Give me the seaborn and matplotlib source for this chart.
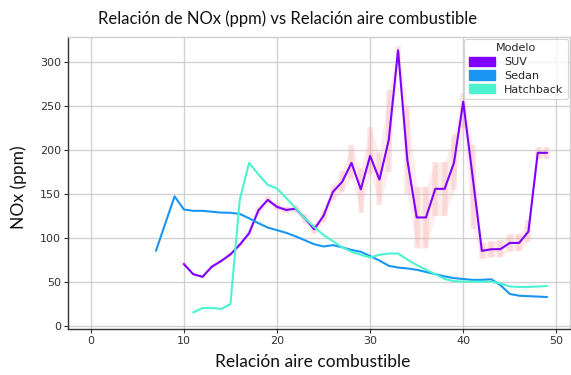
import numpy as np
import pandas as pd
import matplotlib
matplotlib.use("Agg")
import matplotlib.pyplot as plt
import seaborn as sns
from matplotlib.patches import Patch

# --- data -------------------------------------------------------------
modelos = ["SUV", "Sedan", "Hatchback"]

suv_x = list(range(10, 50))
suv_nox = [70, 58.5, 55.5, 67, 73.5, 81, 92, 105, 131, 143,
           135, 131.5, 133, 122, 109.5, 125, 152, 163.5, 185, 155,
           193, 166, 211, 313, 188, 123, 123, 155.5, 155.5, 185,
           254.5, 170, 85, 86.8, 87, 94, 94, 107, 196.5, 196.5]
suv_lo = [68, 57, 54, 65, 72, 79, 90, 102, 127, 139,
          131, 128, 129, 117, 104, 118, 143, 152, 168, 128,
          172, 137, 175, 300, 150, 88, 88, 125, 125, 154,
          225, 110, 76, 78, 78, 85, 85, 95, 190, 190]
suv_hi = [72, 60, 57, 69, 75, 83, 94, 108, 135, 147,
          139, 135, 137, 127, 115, 132, 160, 176, 205, 178,
          226, 196, 268, 318, 250, 158, 158, 186, 186, 218,
          265, 205, 94, 96, 97, 104, 104, 120, 203, 203]

sedan_x = list(range(7, 50))
sedan_nox = [85, 116, 147, 132, 130.5, 130.5, 129.5, 128.5, 128.3, 127,
             122, 116.5, 111.5, 108.5, 105.5, 101.5, 97, 92.5, 90, 91.5,
             89, 86, 84, 79, 74, 68, 66, 65, 63.5, 61,
             58.5, 56, 54, 53, 52, 52, 52.7, 46, 36, 34,
             33.5, 33, 32.5]

hatch_x = list(range(11, 50))
hatch_nox = [15, 20, 20, 19, 24.5, 143, 185, 172, 160, 156,
             145, 133.5, 122, 112, 103, 96, 89, 84, 80.5, 77.5,
             80.5, 82, 82, 75, 69, 63.5, 58.5, 53, 50.5, 50,
             50, 50, 50, 48, 44.5, 44, 44, 44.5, 45]

x_ticks = [0, 10, 20, 30, 40, 50]
y_ticks = [0, 50, 100, 150, 200, 250, 300]

df = pd.concat([
    pd.DataFrame({"AFR": suv_x, "NOx": suv_nox, "Modelo": "SUV"}),
    pd.DataFrame({"AFR": sedan_x, "NOx": sedan_nox, "Modelo": "Sedan"}),
    pd.DataFrame({"AFR": hatch_x, "NOx": hatch_nox, "Modelo": "Hatchback"}),
], ignore_index=True)

# --- style ------------------------------------------------------------
sns.set_theme(style="whitegrid")
plt.rcParams["font.family"] = ["DejaVu Sans"]
colores = [tuple(c) for c in plt.cm.rainbow([0.0, 0.2, 0.4])]
paleta = dict(zip(modelos, colores))

fig = plt.figure(figsize=(5.71, 3.75), dpi=100)
ax = fig.add_axes([0.119, 0.123, 0.879, 0.778])

# spread of the SUV readings, drawn as soft pink bars behind the lines
ax.fill_between(suv_x, suv_lo, suv_hi, color="#f7b0b0", alpha=0.22,
                linewidth=0, zorder=1)
ax.vlines(suv_x, suv_lo, suv_hi, color="#f4a3a3", alpha=0.28,
          linewidth=4, zorder=1)

sns.lineplot(data=df, x="AFR", y="NOx", hue="Modelo", hue_order=modelos,
             palette=paleta, linewidth=1.5, errorbar=None, ax=ax,
             legend=False, zorder=3)

ax.set_xlim(-2.45, 51.45)
ax.set_ylim(-3.7, 328)
ax.set_xticks(x_ticks)
ax.set_yticks(y_ticks)
ax.tick_params(axis="both", labelsize=8, colors="#333333", length=3,
               width=0.8, direction="out", bottom=True, left=True, pad=2)
ax.grid(True, color="#d2d2d2", linewidth=1.0)
for side in ("left", "bottom"):
    ax.spines[side].set_color("#333333")
    ax.spines[side].set_linewidth(1.0)
for side in ("top", "right"):
    ax.spines[side].set_color("#cfcfcf")
    ax.spines[side].set_linewidth(1.0)
ax.set_xlabel("")
ax.set_ylabel("")

handles = [Patch(facecolor=paleta[m], edgecolor=paleta[m], label=m)
           for m in modelos]
leg = ax.legend(handles=handles, title="Modelo", loc="upper right",
                fontsize=8, title_fontsize=8, frameon=True,
                handlelength=2.4, handleheight=0.9, borderpad=0.4,
                labelspacing=0.3, borderaxespad=0.15)
leg.get_frame().set_edgecolor("#cccccc")
leg.get_frame().set_linewidth(0.8)

fig.text(0.503, 0.950, "Relación de NOx (ppm) vs Relación aire combustible",
         ha="center", va="center", fontsize=12, family=["Lato", "DejaVu Sans"],
         color="#111111")
fig.text(0.547, 0.035, "Relación aire combustible", ha="center", va="center",
         fontsize=12.5, family=["Lato", "DejaVu Sans"], color="#111111")
fig.text(0.032, 0.5, "NOx (ppm)", ha="center", va="center", rotation=90,
         fontsize=12.5, family=["Lato", "DejaVu Sans"], color="#111111")

fig.savefig("out.png", dpi=100)
